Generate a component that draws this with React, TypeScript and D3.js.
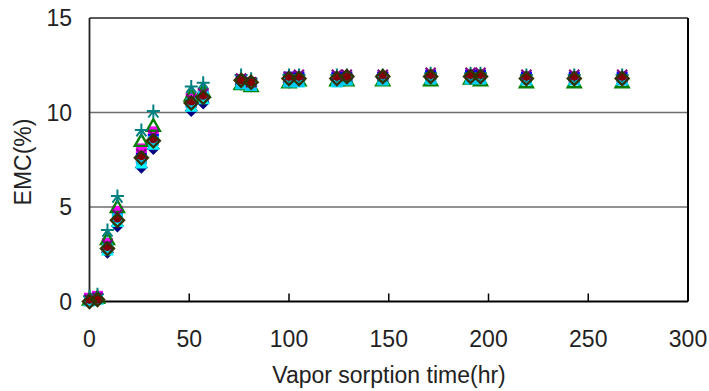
import React from "react";
import * as d3 from "d3";

// sorption times (hr)
const times = [0, 4, 9, 14, 26, 32, 51, 57, 76, 81, 100, 105, 124, 129, 147, 171, 191, 196, 219, 243, 267];

// EMC (%) per specimen
const navyDiamond = [0, 0.1, 2.6, 4.0, 7.1, 8.1, 10.1, 10.5, 11.5, 11.4, 11.6, 11.7, 11.7, 11.8, 11.8, 11.9, 11.9, 11.9, 11.8, 11.8, 11.8];
const magentaSquare = [0.2, 0.3, 3.1, 4.8, 8.1, 9.0, 10.8, 11.0, 11.6, 11.5, 11.8, 11.8, 11.8, 11.8, 11.9, 11.9, 12.0, 11.9, 11.8, 11.8, 11.7];
const blueSquare = [0.1, 0.2, 2.9, 4.5, 7.6, 8.6, 10.5, 10.8, 11.7, 11.6, 11.9, 11.9, 11.9, 11.9, 11.9, 12.0, 12.0, 12.0, 11.9, 11.9, 11.9];
const cyanTriangle = [0.05, 0.1, 2.7, 4.2, 7.3, 8.3, 10.3, 10.7, 11.5, 11.4, 11.6, 11.6, 11.6, 11.7, 11.7, 11.8, 11.8, 11.8, 11.7, 11.7, 11.7];
const greenTriangle = [0.1, 0.2, 3.3, 5.0, 8.5, 9.3, 10.9, 11.1, 11.5, 11.4, 11.6, 11.7, 11.7, 11.7, 11.7, 11.7, 11.8, 11.7, 11.6, 11.6, 11.6];
const tealStar = [0.2, 0.3, 3.7, 5.5, 9.0, 10.0, 11.3, 11.5, 11.9, 11.7, 11.9, 11.9, 11.9, 11.9, 11.9, 12.0, 12.0, 12.0, 11.9, 11.9, 11.9];
const lightBlueSquare = [0.0, 0.1, 2.8, 4.4, 7.5, 8.5, 10.5, 10.9, 11.5, 11.4, 11.6, 11.6, 11.6, 11.7, 11.7, 11.75, 11.75, 11.75, 11.7, 11.7, 11.7];
const purpleX = [0.1, 0.2, 3.0, 4.6, 7.8, 8.8, 10.7, 11.0, 11.8, 11.6, 11.9, 12.0, 12.0, 12.0, 12.0, 12.1, 12.1, 12.1, 12.0, 12.0, 12.0];
const maroonCircle = [0.1, 0.1, 2.9, 4.4, 7.7, 8.6, 10.6, 10.9, 11.7, 11.6, 11.9, 11.9, 11.9, 11.9, 12.0, 12.0, 12.0, 12.0, 11.9, 11.9, 11.9];
const oliveDiamond = [0.0, 0.1, 2.8, 4.3, 7.6, 8.5, 10.5, 10.8, 11.7, 11.6, 11.8, 11.8, 11.8, 11.9, 11.9, 11.9, 11.9, 11.9, 11.8, 11.8, 11.8];

const xTicks = [0, 50, 100, 150, 200, 250, 300];
const yTicks = [0, 5, 10, 15];

const series = [
  { values: navyDiamond, shape: "diamond", color: "#000080", fill: true },
  { values: magentaSquare, shape: "square", color: "#ff00ff", fill: true },
  { values: blueSquare, shape: "square", color: "#0000ff", fill: true },
  { values: greenTriangle, shape: "triangle", color: "#008000", fill: false },
  { values: cyanTriangle, shape: "triangle", color: "#00ffff", fill: true },
  { values: lightBlueSquare, shape: "square", color: "#00ccff", fill: true },
  { values: tealStar, shape: "star", color: "#008080", fill: false },
  { values: purpleX, shape: "x", color: "#800080", fill: false },
  { values: maroonCircle, shape: "circle", color: "#800000", fill: true },
  { values: oliveDiamond, shape: "diamond", color: "#333300", fill: false },
];

const W = 709;
const H = 391;
const m = { left: 89.5, right: 688, top: 18, bottom: 301.5 };
const font = "'Liberation Sans', Arial, sans-serif";

const shapes = {
  diamond: "M0,-6.5L6.5,0L0,6.5L-6.5,0Z",
  square: "M-5.5,-5H5.5V5H-5.5Z",
  triangle: "M0,-6.5L6.5,5H-6.5Z",
  star: "M0,-8V6M-6.5,-1.5H6.5M0,-1.5L-5,5M0,-1.5L5,5",
  x: "M-5,-5L5,5M-5,5L5,-5",
};

const Marker = ({ shape, color, fill }) => {
  if (shape === "circle") {
    return fill ? <circle r={4.2} fill={color} /> : <circle r={4.2} fill="none" stroke={color} strokeWidth={2} />;
  }
  const d = shapes[shape];
  if (shape === "star" || shape === "x") {
    return <path d={d} stroke={color} strokeWidth={2} fill="none" />;
  }
  return fill ? (
    <path d={d} fill={color} stroke="none" />
  ) : (
    <path d={d} fill="none" stroke={color} strokeWidth={2.4} />
  );
};

export default function App() {
  const x = d3.scaleLinear().domain([0, 300]).range([m.left, m.right]);
  const y = d3.scaleLinear().domain([0, 15]).range([m.bottom, m.top]);

  return (
    <svg
      width={W}
      height={H}
      style={{ position: "absolute", left: 0, top: 0, background: "#fff" }}
      fontFamily={font}
    >
      {/* gridlines */}
      {yTicks
        .filter((t) => t > 0 && t < 15)
        .map((t) => (
          <line key={t} x1={m.left} x2={m.right} y1={y(t)} y2={y(t)} stroke="#6e6e6e" strokeWidth={1.3} />
        ))}
      {/* frame */}
      <line x1={m.left} x2={m.right} y1={m.top} y2={m.top} stroke="#222" strokeWidth={1.5} />
      <line x1={m.right} x2={m.right} y1={m.top} y2={m.bottom} stroke="#000" strokeWidth={2} />
      <line x1={m.left} x2={m.left} y1={m.top} y2={m.bottom} stroke="#222" strokeWidth={1.8} />
      <line x1={m.left} x2={m.right} y1={m.bottom} y2={m.bottom} stroke="#000" strokeWidth={2} />
      {/* x ticks */}
      {xTicks.map((t) => (
        <g key={t}>
          {t > 0 && t < 300 && (
            <line x1={x(t)} x2={x(t)} y1={m.bottom} y2={m.bottom - 8} stroke="#000" strokeWidth={1.5} />
          )}
          <text x={x(t)} y={347} textAnchor="middle" fontSize={23} fill="#222">
            {t}
          </text>
        </g>
      ))}
      {/* y ticks */}
      {yTicks.map((t) => (
        <text key={t} x={72} y={y(t) + 8} textAnchor="end" fontSize={23} fill="#222">
          {t}
        </text>
      ))}
      {/* markers */}
      {series.map((s, i) => (
        <g key={i}>
          {s.values.map((v, j) => (
            <g key={j} transform={`translate(${x(times[j])},${y(v)})`}>
              <Marker shape={s.shape} color={s.color} fill={s.fill} />
            </g>
          ))}
        </g>
      ))}
      <text x={389} y={383} textAnchor="middle" fontSize={23} fill="#222">
        Vapor sorption time(hr)
      </text>
      <text transform="translate(31,162) rotate(-90)" textAnchor="middle" fontSize={23} fill="#222">
        EMC(%)
      </text>
    </svg>
  );
}
